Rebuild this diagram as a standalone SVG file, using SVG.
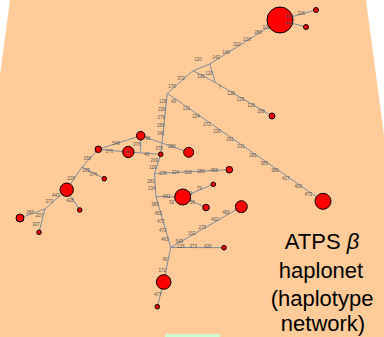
<svg xmlns="http://www.w3.org/2000/svg" width="384" height="337" viewBox="0 0 384 337">
<style>
.e{stroke:#7d8b9c;stroke-width:1;fill:none}
.n{fill:#ff0000;stroke:#000;stroke-width:1}
.l{font-family:"Liberation Sans",Arial,sans-serif;font-size:4.5px;fill:#555;text-anchor:middle;dominant-baseline:central}
.t{font-family:"Liberation Sans",Arial,sans-serif;font-size:22px;fill:#000;text-anchor:middle}
</style>
<rect width="384" height="337" fill="#fff"/>
<polygon points="10,0 366,0 384,135 384,337 0,337 0,75" fill="#ffcc99"/>
<rect x="165" y="334" width="55" height="3" fill="#ccffcc"/>
<g id="connectors">
<path class="e" d="M280,20L316,10M280,20L306,27M280,20L209.7,64L193,70.7L167.3,93.3M209.7,64L215.3,82.5L272,116M193,70.7L215.3,82.5M167.3,93.3L323,201.3M167.3,93.3L160.7,154.3L154.5,173.5L229.3,169.7M154.5,173.5L156,196.5L182.7,197M182.7,197L213.3,184.3M182.7,197L206,207.5M156,196.5L170.7,247.5L241.3,206.7M170.7,247.5L224,247.7M170.7,247.5L163.7,282L157.3,306.7M140.7,135.7L188.7,152.3M140.7,135.7L140.7,153M128.3,152L160.7,154.3M98.3,149.3L140.7,135.7M98.3,149.3L128.3,152M98.3,149.3L82,167L104.3,178.7M82,167L66.7,189.7L79.7,210M66.7,189.7L45,209L20,218M45,209L39,232.3"/>
</g>
<g id="labels">
<text class="l" x="266" y="27">320</text><text class="l" x="258" y="32.5">286</text><text class="l" x="247" y="39">218</text><text class="l" x="237" y="44.5">202</text><text class="l" x="226" y="52">149</text><text class="l" x="216" y="57.5">143</text><text class="l" x="198" y="59">120</text>
<text class="l" x="301" y="13">326</text>
<text class="l" x="209" y="73">120</text><text class="l" x="201" y="76.5">126</text>
<text class="l" x="219.7" y="87.5">7</text><text class="l" x="231" y="93.5">128</text><text class="l" x="240.5" y="99.5">125</text><text class="l" x="251" y="105.5">129</text><text class="l" x="261" y="111">208</text>
<text class="l" x="181" y="78.5">372</text><text class="l" x="172" y="86">170</text>
<text class="l" x="162.7" y="101">128</text><text class="l" x="161.7" y="109.3">228</text><text class="l" x="161.3" y="117.3">279</text><text class="l" x="160.7" y="125.7">283</text><text class="l" x="160.7" y="133.3">342</text><text class="l" x="159.3" y="148.3">376</text>
<text class="l" x="173.5" y="101">40</text><text class="l" x="186.5" y="108.3">131</text><text class="l" x="196" y="116">234</text><text class="l" x="207" y="124">272</text><text class="l" x="217" y="131">236</text><text class="l" x="230" y="139">291</text><text class="l" x="241" y="146.7">231</text><text class="l" x="253" y="155.3">381</text><text class="l" x="264.3" y="163.7">385</text><text class="l" x="275" y="170.3">386</text><text class="l" x="285.7" y="178.3">417</text><text class="l" x="298.3" y="186">409</text><text class="l" x="308.3" y="194">473</text>
<text class="l" x="148" y="138.5">86</text><text class="l" x="171.7" y="146.7">288</text><text class="l" x="136.7" y="144">376</text><text class="l" x="146.7" y="154.3">40</text>
<text class="l" x="154.3" y="160">209</text><text class="l" x="152.7" y="167.3">128</text>
<text class="l" x="162.7" y="173.3">178</text><text class="l" x="175.5" y="172.3">224</text><text class="l" x="188" y="172">318</text><text class="l" x="201" y="171.3">286</text><text class="l" x="214" y="170.5">458</text>
<text class="l" x="151" y="181">282</text><text class="l" x="151.7" y="188.3">234</text><text class="l" x="166.7" y="196">662</text>
<text class="l" x="199.3" y="188.3">79</text><text class="l" x="190" y="193.3">31</text><text class="l" x="192.3" y="202.3">56</text><text class="l" x="171.7" y="202.7">50</text>
<text class="l" x="155" y="204">385</text><text class="l" x="158.3" y="213.3">455</text><text class="l" x="160.7" y="221.7">473</text><text class="l" x="162.7" y="230.7">472</text><text class="l" x="165" y="239">463</text>
<text class="l" x="179.3" y="241">549</text><text class="l" x="191.7" y="233.3">152</text><text class="l" x="202.3" y="227">279</text><text class="l" x="214.7" y="219.3">402</text><text class="l" x="226" y="212.7">482</text>
<text class="l" x="181" y="246.7">126</text><text class="l" x="193.3" y="246.7">373</text><text class="l" x="207.7" y="246.7">436</text>
<text class="l" x="165" y="259.3">40</text><text class="l" x="162.3" y="270">172</text><text class="l" x="158" y="294">477</text>
<text class="l" x="116" y="143.3">549</text><text class="l" x="109.3" y="151.7">376</text><text class="l" x="87.3" y="158.7">158</text>
<text class="l" x="86" y="170.7">185</text><text class="l" x="93.3" y="174">374</text><text class="l" x="71" y="178.3">228</text><text class="l" x="70" y="200">428</text>
<text class="l" x="55.7" y="195">443</text><text class="l" x="49.3" y="201">373</text><text class="l" x="30" y="212.3">288</text><text class="l" x="39.3" y="215.7">207</text><text class="l" x="36" y="224.3">307</text>
</g>
<g id="n1"><circle class="n" cx="280" cy="20" r="13"/><text class="l" x="289" y="16.5">330</text><text class="l" x="289" y="23.5">468</text></g>
<g id="n2"><circle class="n" cx="316" cy="10" r="2.5"/></g>
<g id="n3"><circle class="n" cx="306" cy="27" r="2.5"/></g>
<g id="n4"><circle class="n" cx="272" cy="116" r="3"/></g>
<g id="n5"><circle class="n" cx="323" cy="201.3" r="8"/></g>
<g id="n6"><circle class="n" cx="160.7" cy="154.3" r="2.3"/></g>
<g id="n7"><circle class="n" cx="140.7" cy="135.7" r="4.3"/></g>
<g id="n8"><circle class="n" cx="128.3" cy="152" r="5.7"/><text class="l" x="128.3" y="152">83</text></g>
<g id="n9"><circle class="n" cx="188.7" cy="152.3" r="5"/></g>
<g id="n10"><circle class="n" cx="98.3" cy="149.3" r="3.3"/></g>
<g id="n11"><circle class="n" cx="229.3" cy="169.7" r="3.3"/></g>
<g id="n12"><circle class="n" cx="182.7" cy="197" r="8"/></g>
<g id="n13"><circle class="n" cx="213.3" cy="184.3" r="2.3"/></g>
<g id="n14"><circle class="n" cx="206" cy="207.5" r="3.3"/></g>
<g id="n15"><circle class="n" cx="241.3" cy="206.7" r="6"/></g>
<g id="n16"><circle class="n" cx="224" cy="247.7" r="2.3"/></g>
<g id="n17"><circle class="n" cx="163.7" cy="282" r="7.3"/></g>
<g id="n18"><circle class="n" cx="157.3" cy="306.7" r="2.3"/></g>
<g id="n19"><circle class="n" cx="104.3" cy="178.7" r="2.3"/></g>
<g id="n20"><circle class="n" cx="66.7" cy="189.7" r="6.7"/></g>
<g id="n21"><circle class="n" cx="79.7" cy="210" r="2.3"/></g>
<g id="n22"><circle class="n" cx="20" cy="218" r="4"/></g>
<g id="n23"><circle class="n" cx="39" cy="232.3" r="2.3"/></g>
<g id="title">
<text class="t" x="322" y="249">ATPS <tspan font-style="italic">β</tspan></text>
<text class="t" x="321" y="278">haplonet</text>
<text class="t" x="322" y="306">(haplotype</text>
<text class="t" x="323" y="331">network)</text>
</g>
</svg>
